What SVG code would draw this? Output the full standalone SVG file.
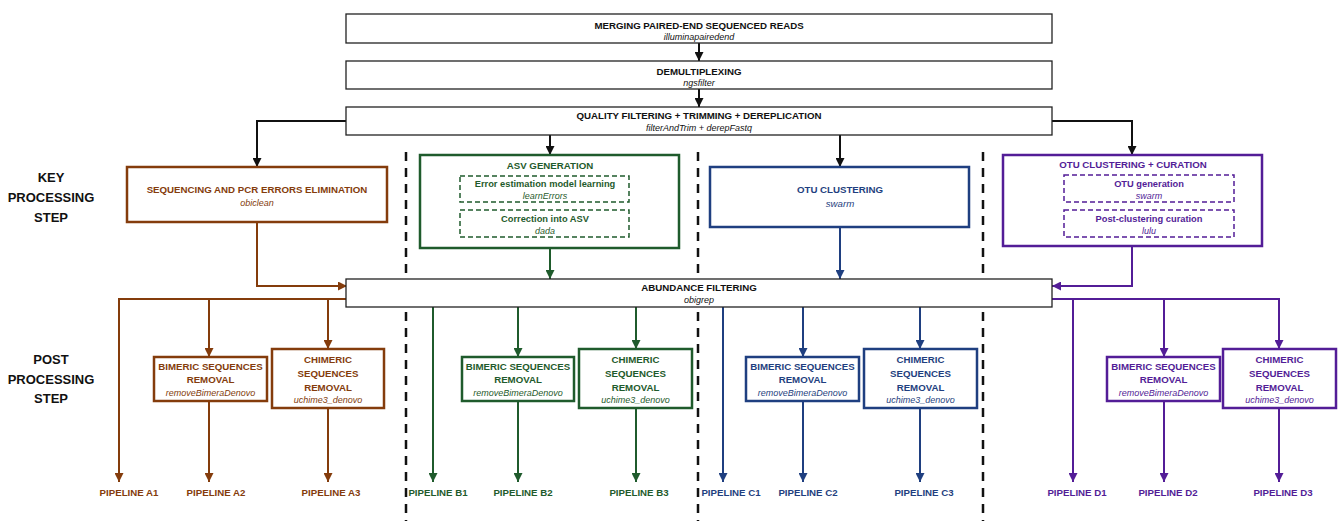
<svg xmlns="http://www.w3.org/2000/svg" width="1338" height="521" viewBox="0 0 1338 521">
<defs>
<style>
text{font-family:"Liberation Sans",Arial,sans-serif;text-anchor:middle}
.t{font-weight:bold;font-size:9.7px}
.s{font-style:italic;font-size:9px}
.side{font-weight:bold;font-size:13px;fill:#111}
.blk{fill:#111}
.box{fill:#fff;stroke:#222;stroke-width:1.3}
.cb{fill:#fff;stroke-width:2.5}
.ib{fill:none;stroke-width:1.5;stroke-dasharray:5 3}
.ln{fill:none;stroke-width:2}
.br{stroke:#843c0c}.brf{fill:#843c0c}
.gr{stroke:#1f5b2c}.grf{fill:#1f5b2c}
.bl{stroke:#1f3f80}.blf{fill:#1f3f80}
.pu{stroke:#531d97}.puf{fill:#531d97}
.dash{stroke:#111;stroke-width:2.5;stroke-dasharray:9 7}
</style>
<marker id="ak" viewBox="0 0 10 10" refX="10" refY="5" markerWidth="4.5" markerHeight="4.5" orient="auto" markerUnits="strokeWidth"><path d="M0,0L10,5L0,10z" fill="#111"/></marker>
<marker id="abr" viewBox="0 0 10 10" refX="10" refY="5" markerWidth="4.5" markerHeight="4.5" orient="auto" markerUnits="strokeWidth"><path d="M0,0L10,5L0,10z" fill="#843c0c"/></marker>
<marker id="agr" viewBox="0 0 10 10" refX="10" refY="5" markerWidth="4.5" markerHeight="4.5" orient="auto" markerUnits="strokeWidth"><path d="M0,0L10,5L0,10z" fill="#1f5b2c"/></marker>
<marker id="abl" viewBox="0 0 10 10" refX="10" refY="5" markerWidth="4.5" markerHeight="4.5" orient="auto" markerUnits="strokeWidth"><path d="M0,0L10,5L0,10z" fill="#1f3f80"/></marker>
<marker id="apu" viewBox="0 0 10 10" refX="10" refY="5" markerWidth="4.5" markerHeight="4.5" orient="auto" markerUnits="strokeWidth"><path d="M0,0L10,5L0,10z" fill="#531d97"/></marker>
</defs>
<rect width="1338" height="521" fill="#fff"/>

<g id="separators">
<line class="dash" x1="406" y1="152" x2="406" y2="521"/>
<line class="dash" x1="698" y1="152" x2="698" y2="521"/>
<line class="dash" x1="983" y1="152" x2="983" y2="521"/>
</g>

<g id="labels">
<text class="side" x="51" y="182">KEY</text>
<text class="side" x="51" y="202">PROCESSING</text>
<text class="side" x="51" y="222">STEP</text>
<text class="side" x="51" y="364">POST</text>
<text class="side" x="51" y="384">PROCESSING</text>
<text class="side" x="51" y="403">STEP</text>
</g>

<g id="connectors">
<g stroke="#111" class="ln">
<line x1="699" y1="43" x2="699" y2="61" marker-end="url(#ak)"/>
<line x1="699" y1="89" x2="699" y2="107" marker-end="url(#ak)"/>
<polyline points="346,121 257,121 257,167" marker-end="url(#ak)"/>
<polyline points="1052,121 1132,121 1132,155" marker-end="url(#ak)"/>
<line x1="550" y1="135" x2="550" y2="155" marker-end="url(#ak)"/>
<line x1="840" y1="135" x2="840" y2="167" marker-end="url(#ak)"/>
</g>
<g class="ln br">
<polyline points="257,222 257,286 347,286" marker-end="url(#abr)"/>
<polyline points="346,299 119,299 119,482" marker-end="url(#abr)"/>
<line x1="209" y1="299" x2="209" y2="357" marker-end="url(#abr)"/>
<line x1="328" y1="299" x2="328" y2="349" marker-end="url(#abr)"/>
<line x1="209" y1="401" x2="209" y2="482" marker-end="url(#abr)"/>
<line x1="328" y1="408" x2="328" y2="482" marker-end="url(#abr)"/>
</g>
<g class="ln gr">
<line x1="550" y1="248" x2="550" y2="279" marker-end="url(#agr)"/>
<line x1="433" y1="307" x2="433" y2="482" marker-end="url(#agr)"/>
<line x1="518" y1="307" x2="518" y2="357" marker-end="url(#agr)"/>
<line x1="636" y1="307" x2="636" y2="349" marker-end="url(#agr)"/>
<line x1="518" y1="401" x2="518" y2="482" marker-end="url(#agr)"/>
<line x1="636" y1="408" x2="636" y2="482" marker-end="url(#agr)"/>
</g>
<g class="ln bl">
<line x1="840" y1="227" x2="840" y2="279" marker-end="url(#abl)"/>
<line x1="723" y1="307" x2="723" y2="482" marker-end="url(#abl)"/>
<line x1="803" y1="307" x2="803" y2="357" marker-end="url(#abl)"/>
<line x1="920" y1="307" x2="920" y2="349" marker-end="url(#abl)"/>
<line x1="803" y1="401" x2="803" y2="482" marker-end="url(#abl)"/>
<line x1="920" y1="408" x2="920" y2="482" marker-end="url(#abl)"/>
</g>
<g class="ln pu">
<polyline points="1132,246 1132,286 1052,286" marker-end="url(#apu)"/>
<polyline points="1052,299 1279,299 1279,349" marker-end="url(#apu)"/>
<line x1="1073" y1="299" x2="1073" y2="482" marker-end="url(#apu)"/>
<line x1="1164" y1="299" x2="1164" y2="357" marker-end="url(#apu)"/>
<line x1="1164" y1="401" x2="1164" y2="482" marker-end="url(#apu)"/>
<line x1="1279" y1="408" x2="1279" y2="482" marker-end="url(#apu)"/>
</g>
</g>

<g id="merging">
<rect class="box" x="346" y="14" width="706" height="29"/>
<text class="t blk" x="699" y="28.5">MERGING PAIRED-END SEQUENCED READS</text>
<text class="s blk" x="699" y="40">illuminapairedend</text>
</g>
<g id="demultiplexing">
<rect class="box" x="346" y="61" width="706" height="28"/>
<text class="t blk" x="699" y="74.5">DEMULTIPLEXING</text>
<text class="s blk" x="699" y="86">ngsfilter</text>
</g>
<g id="quality">
<rect class="box" x="346" y="107" width="706" height="28"/>
<text class="t blk" x="699" y="118.5">QUALITY FILTERING + TRIMMING + DEREPLICATION</text>
<text class="s blk" x="699" y="130.5">filterAndTrim + derepFastq</text>
</g>
<g id="abundance">
<rect class="box" x="346" y="279" width="706" height="28"/>
<text class="t blk" x="699" y="290.5">ABUNDANCE FILTERING</text>
<text class="s blk" x="699" y="303">obigrep</text>
</g>

<g id="seqpcr">
<rect class="cb br" x="127" y="167" width="260" height="55"/>
<text class="t brf" x="257" y="192.5">SEQUENCING AND PCR ERRORS ELIMINATION</text>
<text class="s brf" x="257" y="205.5">obiclean</text>
</g>
<g id="asv">
<rect class="cb gr" x="420" y="155" width="259" height="93"/>
<text class="t grf" x="550" y="168.5">ASV GENERATION</text>
<rect class="ib gr" x="460" y="176" width="169" height="26"/>
<text class="t grf" x="545" y="186.5" style="font-size:9.3px">Error estimation model learning</text>
<text class="s grf" x="545" y="198.5">learnErrors</text>
<rect class="ib gr" x="460" y="210" width="169" height="27"/>
<text class="t grf" x="545" y="222" style="font-size:9.3px">Correction into ASV</text>
<text class="s grf" x="545" y="233.5">dada</text>
</g>
<g id="otu">
<rect class="cb bl" x="710" y="167" width="259" height="60"/>
<text class="t blf" x="840" y="192.5">OTU CLUSTERING</text>
<text class="s blf" x="840" y="206.5" style="font-size:9.7px">swarm</text>
</g>
<g id="otucur">
<rect class="cb pu" x="1003" y="155" width="259" height="91"/>
<text class="t puf" x="1133" y="168">OTU CLUSTERING + CURATION</text>
<rect class="ib pu" x="1064" y="175" width="170" height="27"/>
<text class="t puf" x="1149" y="186.5" style="font-size:9.3px">OTU generation</text>
<text class="s puf" x="1149" y="198.5">swarm</text>
<rect class="ib pu" x="1064" y="210" width="170" height="27"/>
<text class="t puf" x="1149" y="222" style="font-size:9.3px">Post-clustering curation</text>
<text class="s puf" x="1149" y="233.5">lulu</text>
</g>

<g id="bimA">
<rect class="cb br" x="154" y="357" width="113" height="44"/>
<text class="t brf" x="210.5" y="369.5">BIMERIC SEQUENCES</text>
<text class="t brf" x="210.5" y="382.5">REMOVAL</text>
<text class="s brf" x="210.5" y="396">removeBimeraDenovo</text>
</g>
<g id="chiA">
<rect class="cb br" x="272" y="349" width="112" height="59"/>
<text class="t brf" x="328" y="362.5">CHIMERIC</text>
<text class="t brf" x="328" y="376.5">SEQUENCES</text>
<text class="t brf" x="328" y="390.5">REMOVAL</text>
<text class="s brf" x="328" y="403">uchime3_denovo</text>
</g>
<g id="bimB">
<rect class="cb gr" x="462" y="357" width="112" height="44"/>
<text class="t grf" x="518" y="369.5">BIMERIC SEQUENCES</text>
<text class="t grf" x="518" y="382.5">REMOVAL</text>
<text class="s grf" x="518" y="396">removeBimeraDenovo</text>
</g>
<g id="chiB">
<rect class="cb gr" x="579" y="349" width="113" height="59"/>
<text class="t grf" x="635.5" y="362.5">CHIMERIC</text>
<text class="t grf" x="635.5" y="376.5">SEQUENCES</text>
<text class="t grf" x="635.5" y="390.5">REMOVAL</text>
<text class="s grf" x="635.5" y="403">uchime3_denovo</text>
</g>
<g id="bimC">
<rect class="cb bl" x="746" y="357" width="113" height="44"/>
<text class="t blf" x="802.5" y="369.5">BIMERIC SEQUENCES</text>
<text class="t blf" x="802.5" y="382.5">REMOVAL</text>
<text class="s blf" x="802.5" y="396">removeBimeraDenovo</text>
</g>
<g id="chiC">
<rect class="cb bl" x="864" y="349" width="113" height="59"/>
<text class="t blf" x="920.5" y="362.5">CHIMERIC</text>
<text class="t blf" x="920.5" y="376.5">SEQUENCES</text>
<text class="t blf" x="920.5" y="390.5">REMOVAL</text>
<text class="s blf" x="920.5" y="403">uchime3_denovo</text>
</g>
<g id="bimD">
<rect class="cb pu" x="1107" y="357" width="113" height="44"/>
<text class="t puf" x="1163.5" y="369.5">BIMERIC SEQUENCES</text>
<text class="t puf" x="1163.5" y="382.5">REMOVAL</text>
<text class="s puf" x="1163.5" y="396">removeBimeraDenovo</text>
</g>
<g id="chiD">
<rect class="cb pu" x="1223" y="349" width="113" height="59"/>
<text class="t puf" x="1279.5" y="362.5">CHIMERIC</text>
<text class="t puf" x="1279.5" y="376.5">SEQUENCES</text>
<text class="t puf" x="1279.5" y="390.5">REMOVAL</text>
<text class="s puf" x="1279.5" y="403">uchime3_denovo</text>
</g>

<g id="pipelines">
<text class="t brf" x="129" y="495.5">PIPELINE A1</text>
<text class="t brf" x="216" y="495.5">PIPELINE A2</text>
<text class="t brf" x="331" y="495.5">PIPELINE A3</text>
<text class="t grf" x="438" y="495.5">PIPELINE B1</text>
<text class="t grf" x="523" y="495.5">PIPELINE B2</text>
<text class="t grf" x="639" y="495.5">PIPELINE B3</text>
<text class="t blf" x="731" y="495.5">PIPELINE C1</text>
<text class="t blf" x="808" y="495.5">PIPELINE C2</text>
<text class="t blf" x="924" y="495.5">PIPELINE C3</text>
<text class="t puf" x="1077" y="495.5">PIPELINE D1</text>
<text class="t puf" x="1168" y="495.5">PIPELINE D2</text>
<text class="t puf" x="1283" y="495.5">PIPELINE D3</text>
</g>
</svg>
